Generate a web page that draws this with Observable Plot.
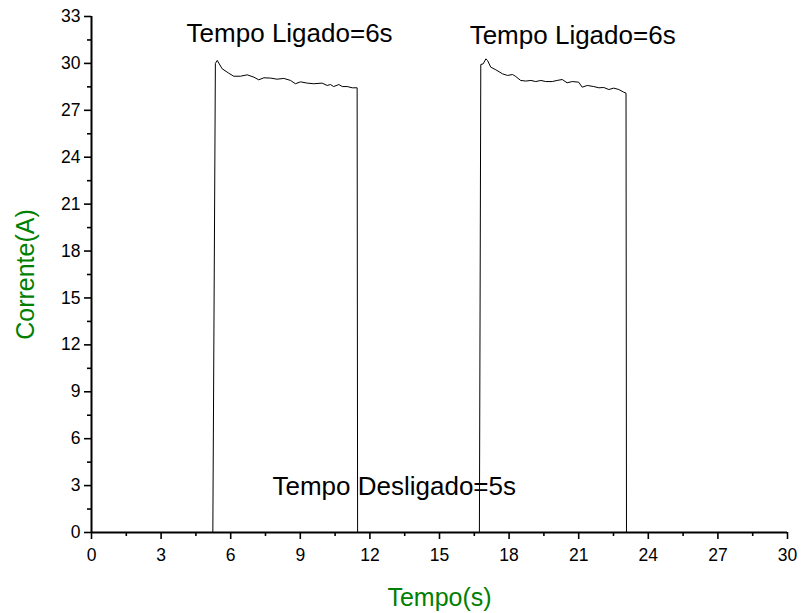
<!DOCTYPE html>
<html>
<head>
<meta charset="utf-8">
<script src="https://cdn.jsdelivr.net/npm/d3@7"></script>
<script src="https://cdn.jsdelivr.net/npm/@observablehq/plot@0.6"></script>
<style>
  html, body { margin: 0; padding: 0; background: #fff; }
</style>
</head>
<body>
<div id="chart"></div>
<script>
// Measured current (A) against time (s): two "on" periods of the load.
const time = [
  0, 5.23, 5.34, 5.42, 5.63, 5.92, 6.13, 6.42, 6.71, 7.0, 7.21, 7.43, 7.72, 8.0, 8.29,
  8.58, 8.79, 9.01, 9.3, 9.58, 9.94, 10.16, 10.3, 10.44, 10.66, 10.81, 11.02, 11.24, 11.45, 11.47,
  16.72, 16.78, 16.88, 17.0, 17.07, 17.21, 17.43, 17.72, 17.93, 18.15, 18.29, 18.5, 18.72, 18.94,
  19.15, 19.37, 19.58, 19.86, 20.07, 20.29, 20.5, 20.72, 21.0, 21.15, 21.37, 21.65, 21.87, 22.08,
  22.3, 22.51, 22.73, 22.94, 23.04, 23.06, 30
];
const current = [
  0, 0, 30.0, 30.19, 29.66, 29.37, 29.18, 29.18, 29.27, 29.12, 28.95, 29.08, 29.06, 28.99, 29.04,
  28.91, 28.7, 28.82, 28.74, 28.7, 28.74, 28.59, 28.65, 28.52, 28.65, 28.52, 28.52, 28.44, 28.44, 0,
  0, 29.93, 29.97, 30.29, 30.19, 29.76, 29.59, 29.33, 29.23, 29.29, 29.16, 28.91, 28.87, 28.91,
  28.84, 28.91, 28.84, 28.84, 28.91, 28.97, 28.76, 28.84, 28.8, 28.48, 28.59, 28.52, 28.44, 28.46,
  28.33, 28.42, 28.33, 28.16, 28.1, 0, 0
];

const xTicks = [0, 3, 6, 9, 12, 15, 18, 21, 24, 27, 30];
const xMinor = [1.5, 4.5, 7.5, 10.5, 13.5, 16.5, 19.5, 22.5, 25.5, 28.5];
const yTicks = [0, 3, 6, 9, 12, 15, 18, 21, 24, 27, 30, 33];
const yMinor = [1.5, 4.5, 7.5, 10.5, 13.5, 16.5, 19.5, 22.5, 25.5, 28.5, 31.5];

const notes = ["Tempo Ligado=6s", "Tempo Ligado=6s", "Tempo Desligado=5s"];
const noteX = [4.1, 16.3, 7.8];
const noteY = [31.9, 31.75, 2.9];

const xTitle = "Tempo(s)";
const yTitle = "Corrente(A)";

const readings = time.map((t, i) => ({t, a: current[i]}));
const labels = notes.map((text, i) => ({text, x: noteX[i], y: noteY[i]}));

const chart = Plot.plot({
  width: 801,
  height: 613,
  marginLeft: 91,
  marginRight: 14,
  marginTop: 16,
  marginBottom: 81,
  x: {domain: [0, 30]},
  y: {domain: [0, 33]},
  style: {fontFamily: "'Liberation Sans', Arial, sans-serif", background: "#fff", color: "#000"},
  marks: [
    Plot.line(readings, {x: "t", y: "a", stroke: "#000", strokeWidth: 1}),
    Plot.text(labels, {x: "x", y: "y", text: "text", textAnchor: "start", lineAnchor: "middle", fontSize: 26, fill: "#000"}),
    Plot.axisX({ticks: xTicks, tickSize: 7, tickPadding: 9, fontSize: 17.5, strokeWidth: 1.6, label: null}),
    Plot.axisX({ticks: xMinor, tickSize: 4, tickFormat: () => "", strokeWidth: 1.6, label: null}),
    Plot.axisY({ticks: yTicks, tickSize: 7, tickPadding: 4, fontSize: 17.5, strokeWidth: 1.6, label: null}),
    Plot.axisY({ticks: yMinor, tickSize: 4, tickFormat: () => "", strokeWidth: 1.6, label: null}),
    Plot.ruleY([0], {stroke: "#000", strokeWidth: 2}),
    Plot.ruleX([0], {stroke: "#000", strokeWidth: 2}),
    Plot.text([xTitle], {frameAnchor: "bottom", dy: 65, lineAnchor: "middle", fontSize: 25, fill: "#008000"}),
    Plot.text([yTitle], {frameAnchor: "left", dx: -66, rotate: -90, textAnchor: "middle", lineAnchor: "middle", fontSize: 25, fill: "#008000"})
  ]
});

document.getElementById("chart").appendChild(chart);
</script>
</body>
</html>
